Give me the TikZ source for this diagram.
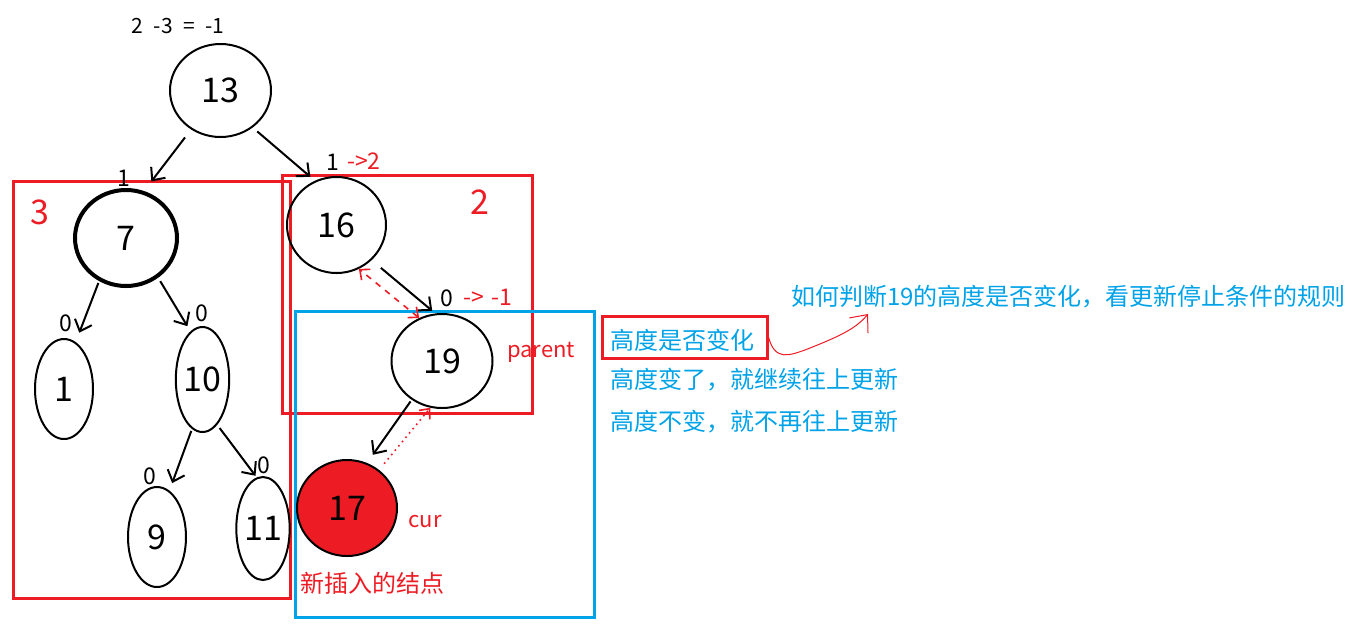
\documentclass[tikz,border=0pt]{standalone}
\usepackage{fontspec}
\setmainfont{Noto Sans CJK SC}
\usetikzlibrary{shapes.geometric,arrows.meta}
\definecolor{paintred}{RGB}{237,28,36}
\definecolor{paintblue}{RGB}{0,162,232}
\tikzset{
  avl/.style={draw,ellipse,line width=1pt,inner sep=0pt,font=\fontsize{17}{20}\selectfont},
  link/.style={line width=1pt,-{Straight Barb[length=5pt,width=9pt]}},
  upd/.style={paintred,line width=0.8pt,dashed,-{Straight Barb[length=4pt,width=7pt]}},
  bal/.style={font=\fontsize{11.5}{13}\selectfont},
  tag/.style={paintred,font=\fontsize{11}{13}\selectfont},
  big/.style={paintred,font=\fontsize{17}{20}\selectfont},
  hint/.style={paintblue,anchor=west,font=\fontsize{12}{14}\selectfont},
  zone/.style={line width=1.5pt},
}
\begin{document}
\begin{tikzpicture}[x=0.5pt,y=-0.5pt]
\useasboundingbox (0,0) rectangle (1352,628);
% the three subtrees
\draw[zone,paintred] (13,181) rectangle (290,598);
\draw[zone,paintred] (282,175) rectangle (532,413);
\draw[zone,paintblue] (295,311) rectangle (594,617);
\node[big] (h3) at (40,212) {3};
\node[big] (h2) at (480,202) {2};
% tree
\node[avl,minimum width=50.5pt,minimum height=46.5pt] (n13) at (220.5,90.5) {13};
\node[avl,line width=2pt,minimum width=51pt,minimum height=48pt] (n7) at (126,238) {7};
\node[avl,minimum width=49.5pt,minimum height=48pt] (n16) at (336.5,225) {16};
\node[avl,minimum width=50.5pt,minimum height=47pt] (n19) at (442,361) {19};
\node[avl,minimum width=29pt,minimum height=50pt] (n1) at (64,389) {1};
\node[avl,minimum width=25.5pt,minimum height=52.5pt] (n10) at (202.5,379.5) {10};
\node[avl,minimum width=29pt,minimum height=50pt] (n9) at (157,537) {9};
\node[avl,minimum width=25pt,minimum height=51.5pt] (n11) at (263,528.5) {11};
\node[avl,fill=paintred,minimum width=50pt,minimum height=48pt] (n17) at (347,508) {17};
\draw[link,shorten <=5pt,shorten >=6pt] (n13.233) -- (n7.69);
\draw[link,shorten <=3pt,shorten >=3pt] (n13.-49) -- (n16.116);
\draw[link,shorten <=1pt,shorten >=5pt] (n7.238) -- (n1.76);
\draw[link,shorten <=2pt,shorten >=3pt] (n7.-51) -- (n10.104);
\draw[link,shorten <=6pt,shorten >=2pt] (n16.-45) -- (n19.98);
\draw[link,shorten <=1pt,shorten >=4pt] (n10.258) -- (n9.75);
\draw[link,shorten <=2pt,shorten >=1pt] (n10.-72) -- (n11.97);
\draw[link,shorten <=1pt,shorten >=5pt] (n19.232) -- (n17.66);
% update path
\draw[upd,{Straight Barb[length=4pt,width=7pt]}-{Straight Barb[length=4pt,width=7pt]}] (n19.118) -- (n16.-63);
\draw[upd,dotted,shorten <=4pt] (n17.50) -- (n19.256);
% balance factors
\node (bf13) at (178,26) {\fontsize{10.5}{12}\selectfont 2\hspace{0.5em}-3\hspace{0.5em}=\hspace{0.5em}-1};
\node[bal] (bf7) at (124,178) {1};
\node[bal] (bf16) at (333,162) {1};
\node[bal,paintred] (bf16n) at (364,161) {->2};
\node[bal] (bf19) at (447,298) {0};
\node[bal,paintred] (bf19n) at (488,297) {->\hspace{0.3em}-1};
\node[bal] (bf1) at (66,323) {0};
\node[bal] (bf10) at (202,313) {0};
\node[bal] (bf9) at (150,476) {0};
\node[bal] (bf11) at (264,465) {0};
\node[tag] (par) at (541,352) {parent};
\node[tag] (cur) at (425,521) {cur};
\node[paintred,font=\fontsize{12}{14}\selectfont] (fresh) at (372,583) {新插入的结点};
% notes
\node[hint] (rule) at (784,297) {如何判断19的高度是否变化，看更新停止条件的规则};
\node[hint] (ask) at (603,340) {高度是否变化};
\node[zone,draw=paintred,minimum width=82.5pt,minimum height=21pt] (askbox) at (684.5,337) {};
\node[hint] (go) at (603,380) {高度变了，就继续往上更新};
\node[hint] (stop) at (603,422) {高度不变，就不再往上更新};
\coordinate (tip) at (868,314);
\draw[paintred,line width=0.5pt,-{Straight Barb[length=7pt,width=12pt]}] (askbox.east) .. controls (775,362) and (790,355) .. (805,350) .. controls (835,338) and (855,330) .. (tip);
\end{tikzpicture}
\end{document}
